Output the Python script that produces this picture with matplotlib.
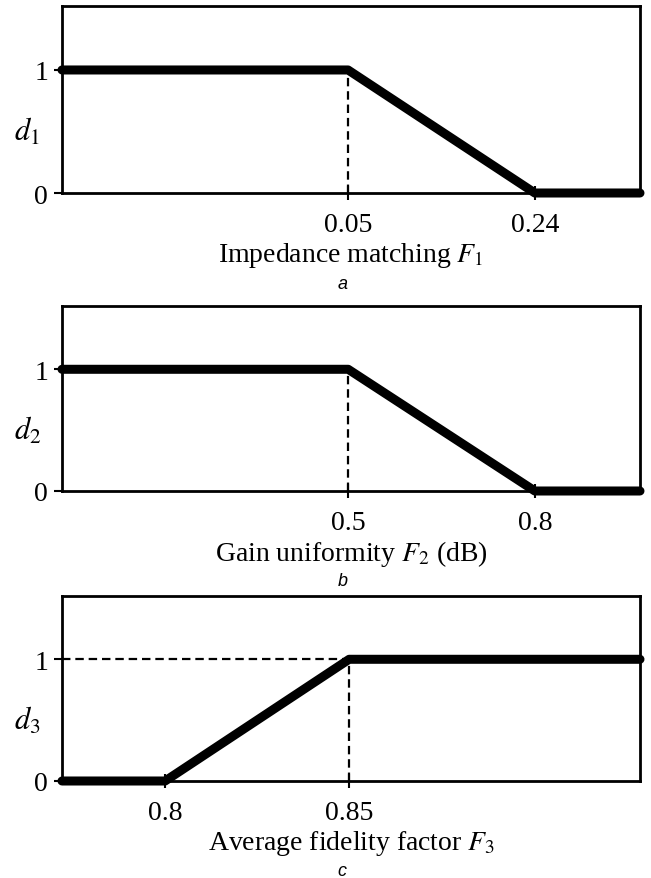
import matplotlib.pyplot as plt

plt.rcParams["font.family"] = ["Liberation Serif", "DejaVu Serif"]
plt.rcParams["mathtext.fontset"] = "stix"

# membership curves (x values, ends = axis limits)
a_x = [-0.241, 0.05, 0.24, 0.347]
a_y = [1, 1, 0, 0]
b_x = [0.04, 0.5, 0.8, 0.969]
b_y = [1, 1, 0, 0]
c_x = [0.772, 0.8, 0.85, 0.929]
c_y = [0, 0, 1, 1]

a_ticks = [0.05, 0.24]
a_ticklabels = ["0.05", "0.24"]
b_ticks = [0.5, 0.8]
b_ticklabels = ["0.5", "0.8"]
c_ticks = [0.8, 0.85]
c_ticklabels = ["0.8", "0.85"]

ylabels = [r"$d_1$", r"$d_2$", r"$d_3$"]
xlabels = [r"Impedance matching $F_1$", r"Gain uniformity $F_2$ (dB)",
           r"Average fidelity factor $F_3$"]
letters = ["a", "b", "c"]

fig = plt.figure(figsize=(6.51, 8.79), dpi=100)
left, width = 62 / 651, 578 / 651
# (top, bottom) pixel rows of each panel
rows = [(7, 194), (307, 492), (597, 782)]

panels = [
    (a_x, a_y, a_ticks, a_ticklabels, "down"),
    (b_x, b_y, b_ticks, b_ticklabels, "down"),
    (c_x, c_y, c_ticks, c_ticklabels, "up"),
]

dash = (3.8, 2.2)

for i, (xs, ys, ticks, tlabels, kind) in enumerate(panels):
    top, bot = rows[i]
    ax = fig.add_axes([left, 1 - bot / 879, width, (bot - top) / 879])
    ax.set_xlim(xs[0], xs[-1])
    ax.set_ylim(0, 1.52)

    # dashed guide lines
    if kind == "down":
        ax.plot([xs[1], xs[1]], [0, 1], "k--", lw=1.6, dashes=dash)
    else:
        ax.plot([xs[2], xs[2]], [0, 1], "k--", lw=1.6, dashes=dash)
        ax.plot([xs[0], xs[2]], [1, 1], "k--", lw=1.6, dashes=dash)

    ax.plot(xs, ys, color="black", lw=6.5, solid_capstyle="round",
            solid_joinstyle="round", clip_on=False, zorder=5)

    for s in ax.spines.values():
        s.set_linewidth(2)

    ax.set_xticks(ticks)
    ax.set_xticklabels(tlabels)
    ax.set_yticks([0, 1])
    ax.set_yticklabels(["0", "1"])
    ax.tick_params(axis="x", direction="inout", length=10, width=1.5,
                   labelsize=20, pad=9)
    ax.tick_params(axis="y", direction="out", length=6, width=1.5,
                   labelsize=20, pad=4)

    ax.set_xlabel(xlabels[i], fontsize=20, labelpad=2)
    ax.set_ylabel(ylabels[i], fontsize=22, rotation=0, va="center")
    ax.yaxis.set_label_coords(-0.06, 0.33)
    ax.text(0.485, -0.485, letters[i], transform=ax.transAxes,
            fontsize=13, style="italic", family="Liberation Sans",
            ha="center", va="center")

fig.savefig("out.png", dpi=100)
